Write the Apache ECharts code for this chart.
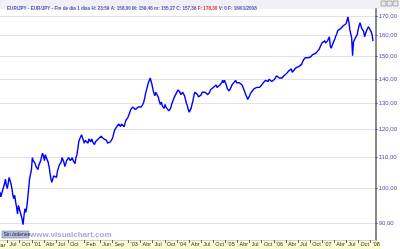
<!DOCTYPE html>
<html><head><meta charset="utf-8">
<script src="https://cdn.jsdelivr.net/npm/echarts@6/dist/echarts.min.js"></script>
<style>html,body{margin:0;padding:0;background:#fff;overflow:hidden}#c{width:400px;height:249px}</style>
</head><body><div id="c"></div>
<script>
// weekly (Friday) closes, EUR/JPY, starting 2000-05-05
const firstFriday = '2000-05-05';
const w2000 = [99,97.5,97,99.5, 100.5,101.5,103,101,100, 100.5,103.5,104,101.5, 100,98,97,98, 96,94.5,92.5,95,94, 93.5,92,91,89.5, 92,94,93,94.5, 97,100,103,104.5,106];
const w2001 = [110,109,108.5,108, 107,106.5,106,107.5, 107.5,109,110.5,111.5,110.5, 109,111,110,110.5, 108.5,107,105,103, 102,102.5,104,104.5,104, 103.5,105.5,106.5,107.5, 107,108.5,110,109.5,108.5, 107,108,109,108.5, 110,109.5,109,109.5, 110,109,108.5,108,110, 111,113,115.5,116.5];
const w2002 = [117,118,117.5,116, 115,116,115.5,116.5, 115,116.5,116,115.5,116.5, 115.5,115,114.5,115.5, 115.5,116,116.5,116,116.5, 117.5,118,117,116.5, 117,116.5,116,115, 115.5,115,115.5,116,116.5, 117.5,119,120,120.5, 121,121.5,122,121.5, 121,122,122.5,121.5,121, 122.5,123.5,124,124.5];
const w2003 = [125,126.5,127.5,128,128.5, 128,128.5,127.5,128, 127,128.5,128.5,129, 128.5,129,129.5,130.5, 132,134,135.5,137,138.5, 138,140.5,139,137.5, 135.5,134,133,134.5, 134.5,133,132,130.5,129.5, 130.5,129,128.5,128, 129.5,128.5,128,128.5,127, 127,128,129.5,130.5, 131,132.5,133,134];
const w2004 = [134.5,135.5,136,134.5,133.5, 133,134.5,134,133, 131.5,130,129,127.5, 126.5,127,128,129.5,131, 133,134.5,135,134, 133.5,132.5,132,133, 133.5,134.5,135,134,134.5, 134,134.5,133.5,134, 134.5,135.5,136,135.5, 136.5,137,136.5,137.5,136.5, 137,136.5,137.5,138, 138.5,139.5,138.5,139.5,139.5];
const w2005 = [137.5,136,135.5,135, 135.5,136.5,137.5,138, 138.5,139,139.5,138.5, 138,139,138.5,139,138, 137.5,137,135.5,134.5, 133.5,132.5,131.5,132, 133,134,134.5,135,135.5, 136,136.5,136,136.5, 137,136,136.5,137,137.5, 138,138.5,139,139.5, 139,139.5,139,140, 140,139.5,139,139.5,139];
const w2006 = [140,140.5,141.5,141, 141.5,140.5,140,140.5, 140.5,141,141.5,142,142, 142.5,143,143.5,143, 143.5,144.5,143,142.5, 144,144.5,145,144.5,145.5, 145.5,145,146,146.5, 147,148.5,149,149.5, 149.5,149,149.5,149,149.5, 150,150.5,151,150.5, 150.5,151.5,152,152.5, 153,153.5,154.5,155.5,156.5];
const w2007 = [156.5,157,157.5,156.5, 157,157.5,158.5,159.5, 155,154,154.5,156.5,157.5, 158.5,160,161,162.5, 162.5,163,163.5,163.5, 164,165,165.5,166,166, 167,169.5,167,163, 161,159,150.5,157,157.5, 159,158.5,160.5,163, 165,166.5,165,163.5, 164.5,162,159.5,161,162.5, 163,164.5,163.5,164.5];
const w2008 = [162,160.5,157.36];

const yTicks = [90,100,110,120,130,140,150,160,170];
const xTickDates = ['2000-07-01','2000-10-01','2001-01-01','2001-04-01','2001-07-01','2001-10-01','2002-02-01','2002-06-01','2002-09-01','2003-01-01','2003-04-01','2003-07-01','2003-10-01','2004-01-01','2004-04-01','2004-07-01','2004-10-01','2005-01-01','2005-04-01','2005-07-01','2005-10-01','2006-01-01','2006-04-01','2006-07-01','2006-10-01','2007-01-01','2007-04-01','2007-07-01','2007-10-01','2008-01-01'];
const xTickLabels = ['Jul','Oct',"'01",'Abr','Jul','Oct','Feb','Jun','Sep',"'03",'Abr','Jul','Oct',"'04",'Abr','Jul','Oct',"'05",'Abr','Jul','Oct',"'06",'Abr','Jul','Oct',"'07",'Abr','Jul','Oct',"'08"];
const lastClose = 157.36;
const titleText = 'EUR/JPY - EUR/JPY - Fin de día 1 días H: 23:59 A: 158,00 M: 159,46 m: 155,27 C: 157,36 ';
const titleRed = 'F: 178,30';
const titleTail = ' V: 0 F: 16/01/2008';

function ts(s){const p=s.split('-');return new Date(+p[0],+p[1]-1,+p[2]).getTime();}
const allVals = [].concat(w2000,w2001,w2002,w2003,w2004,w2005,w2006,w2007,w2008);
const seriesData = [];
{
  const d = new Date(ts(firstFriday));
  for (const v of allVals) {
    seriesData.push([d.getTime(), v]);
    d.setDate(d.getDate() + 7);
  }
}
const xTickTs = xTickDates.map(ts);
const labelMap = {}; xTickTs.forEach((t,i)=>labelMap[t]=xTickLabels[i]);

const chart = echarts.init(document.getElementById('c'), null, {renderer:'canvas'});
chart.setOption({
  animation:false,
  backgroundColor:'#ffffff',
  title:{
    left:2, top:1,
    text:'{a|'+titleText+'}{r|'+titleRed+'}{a|'+titleTail+'}',
    textStyle:{rich:{
      a:{fontSize:4.6,color:'#5050b0',fontFamily:'Liberation Sans'},
      r:{fontSize:4.6,color:'#e03030',fontFamily:'Liberation Sans'}
    }}
  },
  grid:{left:0,right:20,top:9,bottom:9},
  xAxis:{
    type:'value',
    min:ts('2000-05-06'), max:ts('2008-02-07'),
    axisLine:{show:true,lineStyle:{color:'#d0d0d0',width:1}},
    axisTick:{show:true,customValues:xTickTs,length:3,lineStyle:{color:'#666'}},
    axisLabel:{customValues:xTickTs,formatter:v=>labelMap[v]||'',align:'left',margin:1,padding:[0,0,0,2],
      fontSize:5.5,color:'#333',fontFamily:'Liberation Sans'},
    splitLine:{show:false}
  },
  yAxis:{
    type:'log', logBase:10, position:'right',
    min:85.4, max:173.7,
    axisLine:{show:true,lineStyle:{color:'#8a8a8a',width:2}},
    axisTick:{show:true,customValues:yTicks,length:2,inside:false,lineStyle:{color:'#5050b0'}},
    axisLabel:{customValues:yTicks,formatter:v=>v.toFixed(2).replace('.',','),fontSize:6,color:'#5050b0',margin:3,fontFamily:'Liberation Sans'},
    splitLine:{show:true,customValues:yTicks,lineStyle:{color:'#e2e2e2',width:1}}
  },
  graphic:[
    {type:'rect',shape:{x:0,y:0,width:400,height:9},style:{fill:'#f0f0f6'},z:-1,silent:true},
    {type:'rect',shape:{x:0,y:240,width:381,height:9},style:{fill:'#fdfbd0'},z:-1,silent:true},
    {type:'text',x:-4,y:242.5,style:{text:'Mar',fontSize:5.5,fill:'#333',fontFamily:'Liberation Sans'},silent:true},
    {type:'rect',shape:{x:381,y:1,width:5,height:5},style:{fill:'#e8e8e8',stroke:'#888',lineWidth:0.6}},
    {type:'rect',shape:{x:387,y:1,width:5,height:5},style:{fill:'#e8e8e8',stroke:'#888',lineWidth:0.6}},
    {type:'rect',shape:{x:393,y:1,width:5,height:5},style:{fill:'#e8e8e8',stroke:'#888',lineWidth:0.6}},
    {type:'rect',shape:{x:2,y:231,width:27,height:7},style:{fill:'#b4bcd6',stroke:'#7c88a8',lineWidth:0.6}},
    {type:'text',x:3.5,y:232,style:{text:'Sin órdenes',fontSize:5,fill:'#202040',fontFamily:'Liberation Sans'}},
    {type:'text',x:30,y:231,style:{text:'www.visualchart.com',fontSize:8,fontWeight:'bold',fill:'#a8a8d4',fontFamily:'Liberation Sans'}}
  ],
  series:[{
    type:'line', data:seriesData, showSymbol:false, z:3,
    lineStyle:{color:'#0000ff',width:1.4},
    markLine:{
      silent:true, symbol:['none','none'],
      lineStyle:{opacity:0},
      label:{position:'end',formatter:'157,36',backgroundColor:'#c9c98c',color:'#333',fontSize:6,padding:[1,2,1,1],distance:1,fontFamily:'Liberation Sans'},
      data:[{yAxis:lastClose}]
    }
  }]
});
</script></body></html>
